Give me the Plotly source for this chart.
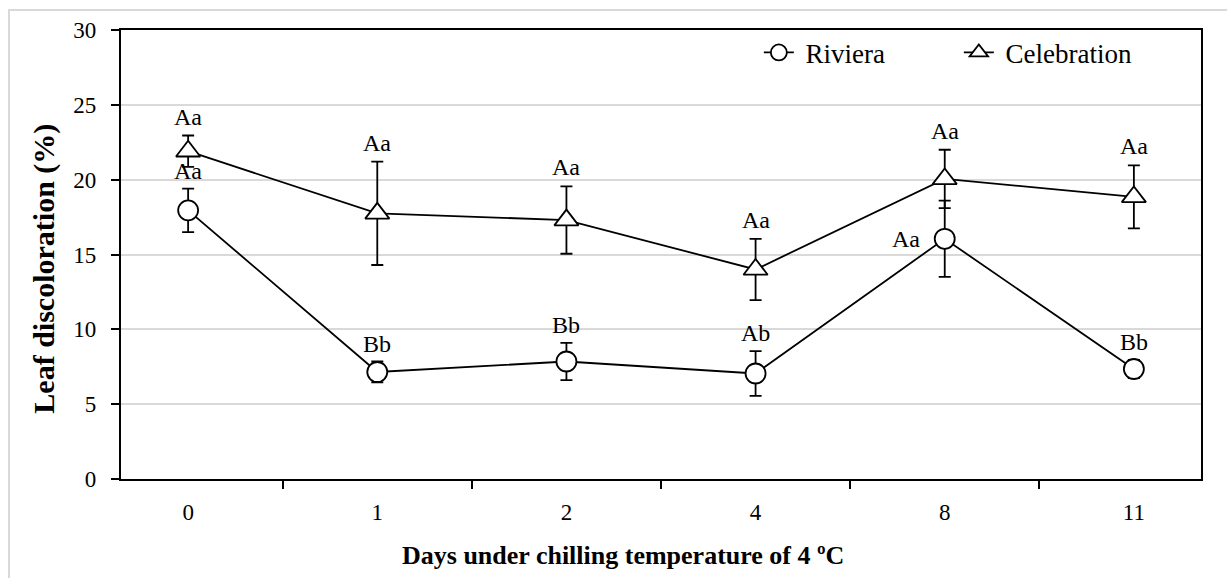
import plotly.graph_objects as go

days = ["0", "1", "2", "4", "8", "11"]
riviera = [17.95, 7.15, 7.85, 7.05, 16.05, 7.35]
riviera_err = [1.45, 0.7, 1.25, 1.5, 2.55, 0.6]
celebration = [21.9, 17.75, 17.3, 14.0, 20.05, 18.85]
celebration_err = [1.05, 3.45, 2.25, 2.05, 1.95, 2.1]
riviera_labels = ["Aa", "Bb", "Bb", "Ab", "Aa", "Bb"]
celebration_labels = ["Aa", "Aa", "Aa", "Aa", "Aa", "Aa"]
y_ticks = [0, 5, 10, 15, 20, 25, 30]
x_title = "Days under chilling temperature of 4 ºC"
y_title = "Leaf discoloration (%)"

FONT = "Liberation Serif, Times New Roman, serif"
LBL = dict(family=FONT, size=24, color="black")

fig = go.Figure()
fig.add_trace(go.Scatter(
    x=days, y=riviera, name=" Riviera", mode="lines+markers",
    line=dict(color="black", width=1.8),
    marker=dict(symbol="circle", size=20, color="white", line=dict(color="black", width=1.8)),
    error_y=dict(type="data", array=riviera_err, visible=True, color="black", thickness=1.8, width=6),
))
fig.add_trace(go.Scatter(
    x=days, y=celebration, name=" Celebration", mode="lines+markers",
    line=dict(color="black", width=1.8),
    marker=dict(symbol="triangle-up", size=21, color="white", line=dict(color="black", width=1.8)),
    error_y=dict(type="data", array=celebration_err, visible=True, color="black", thickness=1.8, width=6),
))

annotations = []
for i, (v, e, t) in enumerate(zip(celebration, celebration_err, celebration_labels)):
    annotations.append(dict(x=i, y=v + e, text=t, showarrow=False, yanchor="bottom",
                            yshift=4, font=LBL))
for i, (d, v, e, t) in enumerate(zip(days, riviera, riviera_err, riviera_labels)):
    if d == "8":
        annotations.append(dict(x=i, y=v, text=t, showarrow=False, xanchor="right",
                                xshift=-23, font=LBL))
    else:
        annotations.append(dict(x=i, y=v + e, text=t, showarrow=False, yanchor="bottom",
                                yshift=3, font=LBL))

# axis titles (centred on the whole chart area, as in the original)
annotations.append(dict(xref="paper", yref="paper", x=0.4648, y=-0.170, xanchor="center",
                        yanchor="middle", showarrow=False, text="<b>" + x_title + "</b>",
                        font=dict(family=FONT, size=26, color="black")))
annotations.append(dict(xref="paper", yref="paper", x=-0.0713, y=0.4685, xanchor="center",
                        yanchor="middle", showarrow=False, textangle=-90, text="<b>" + y_title + "</b>",
                        font=dict(family=FONT, size=30, color="black")))

fig.update_layout(
    width=1227, height=578,
    margin=dict(l=121, r=26, t=30, b=99),
    paper_bgcolor="white", plot_bgcolor="white",
    font=dict(family=FONT, size=23, color="black"),
    showlegend=True,
    legend=dict(orientation="h", x=0.5906, y=0.949, xanchor="left", yanchor="middle",
                font=dict(family=FONT, size=27), bgcolor="rgba(0,0,0,0)",
                entrywidth=155, entrywidthmode="pixels"),
    annotations=annotations,
    shapes=[dict(type="rect", xref="paper", yref="paper",
                 x0=-0.1037, x1=1.2, y0=-0.5, y1=1.0446,
                 line=dict(color="#d9d9d9", width=2), layer="below")],
)
fig.update_xaxes(
    type="category", showline=True, linecolor="black", linewidth=2.2, mirror=True,
    ticks="outside", tickson="boundaries", ticklen=8, tickwidth=2, tickcolor="black",
    showgrid=False, ticklabelstandoff=11, tickfont=dict(family=FONT, size=23),
)
fig.update_yaxes(
    range=[0, 30], tickvals=y_ticks, showline=True, linecolor="black", linewidth=2.2, mirror=True,
    ticks="outside", ticklen=8, tickwidth=1.5, tickcolor="black",
    showgrid=True, gridcolor="#d9d9d9", gridwidth=1.5, zeroline=False, ticklabelstandoff=10,
    tickfont=dict(family=FONT, size=23),
)

fig.write_html("out.html", config={"displayModeBar": False},
               post_script="document.body.style.margin='0';")
